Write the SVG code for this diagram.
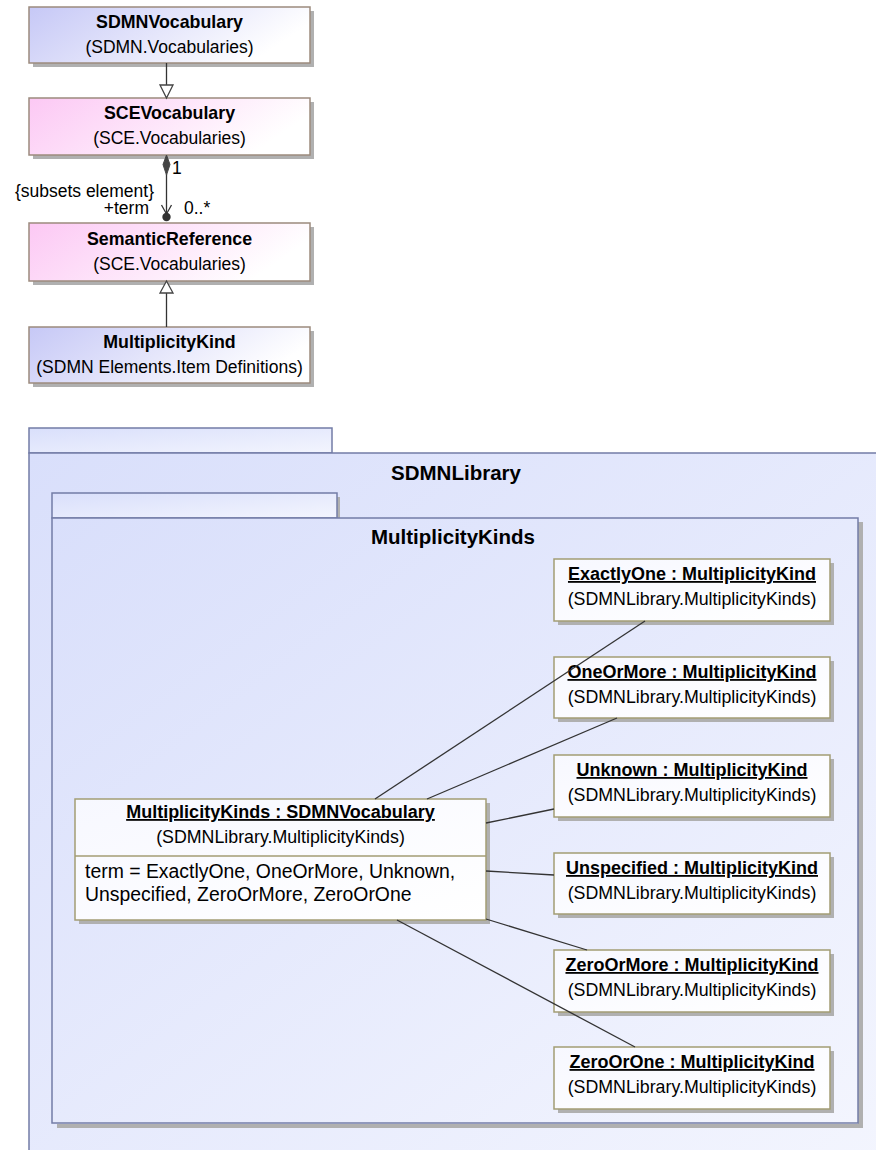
<svg xmlns="http://www.w3.org/2000/svg" width="876" height="1150" viewBox="0 0 876 1150">
<defs>
<linearGradient id="gBlue" x1="0" y1="0" x2="1" y2="0.3">
<stop offset="0" stop-color="#c6c8f6"/><stop offset="1" stop-color="#ffffff"/>
</linearGradient>
<linearGradient id="gPink" x1="0" y1="0" x2="1" y2="0.3">
<stop offset="0" stop-color="#fcc8f4"/><stop offset="1" stop-color="#ffffff"/>
</linearGradient>
<linearGradient id="gPkg" x1="0" y1="0" x2="1" y2="1">
<stop offset="0" stop-color="#d9dffb"/><stop offset="1" stop-color="#f3f5fe"/>
</linearGradient>
<linearGradient id="gInst" x1="0" y1="0" x2="1" y2="1">
<stop offset="0" stop-color="#f7f8ff"/><stop offset="1" stop-color="#ffffff"/>
</linearGradient>
</defs>
<style>
text{font-family:"Liberation Sans",Arial,sans-serif;fill:#000}
.ct{font-size:17.8px;font-weight:bold;text-anchor:middle}
.cs{font-size:17.5px;text-anchor:middle}
.it{font-size:18px;font-weight:bold;text-anchor:middle;text-decoration:underline}
.is{font-size:17.8px;text-anchor:middle}
.at{font-size:19.4px}
.pt{font-size:20.5px;font-weight:bold;text-anchor:middle}
.lb{font-size:17.5px}
.sh{fill:#b0b0b0}
.cls{stroke:#9c8b7d;stroke-width:1.5}
.inst{fill:url(#gInst);stroke:#a39d74;stroke-width:1.5}
.pkg{fill:url(#gPkg);stroke:#737ca6;stroke-width:1.5}
.ln{stroke:#333;stroke-width:1.3;fill:none}
.gen{fill:#fff;stroke:#444;stroke-width:1.3}
</style>

<!-- Packages -->
<g id="pkg-SDMNLibrary">
<rect class="pkg" x="29" y="428" width="303" height="25"/>
<rect class="pkg" x="29" y="453" width="860" height="710"/>
<text class="pt" x="456" y="480">SDMNLibrary</text>
</g>
<g id="pkg-MultiplicityKinds">
<rect class="sh" x="336" y="497" width="4" height="22"/>
<rect class="sh" x="858" y="522" width="5" height="606"/>
<rect class="sh" x="57" y="1124" width="806" height="4"/>
<rect class="pkg" x="52" y="493" width="285" height="25"/>
<rect class="pkg" x="52" y="518" width="806" height="605"/>
<text class="pt" x="453" y="544">MultiplicityKinds</text>
</g>

<!-- Classes -->
<g id="SDMNVocabulary">
<rect class="sh" x="33" y="11" width="281" height="56"/>
<rect class="cls" x="29" y="7" width="281" height="56" fill="url(#gBlue)"/>
<text class="ct" x="169.5" y="28">SDMNVocabulary</text>
<text class="cs" x="169.5" y="53">(SDMN.Vocabularies)</text>
</g>
<g id="SCEVocabulary">
<rect class="sh" x="33" y="102" width="281" height="57"/>
<rect class="cls" x="29" y="98" width="281" height="57" fill="url(#gPink)"/>
<text class="ct" x="169.5" y="119">SCEVocabulary</text>
<text class="cs" x="169.5" y="144">(SCE.Vocabularies)</text>
</g>
<g id="SemanticReference">
<rect class="sh" x="33" y="227" width="281" height="58"/>
<rect class="cls" x="29" y="223" width="281" height="58" fill="url(#gPink)"/>
<text class="ct" x="169.5" y="245">SemanticReference</text>
<text class="cs" x="169.5" y="270">(SCE.Vocabularies)</text>
</g>
<g id="MultiplicityKind">
<rect class="sh" x="33" y="331" width="281" height="56"/>
<rect class="cls" x="29" y="327" width="281" height="56" fill="url(#gBlue)"/>
<text class="ct" x="169.5" y="348">MultiplicityKind</text>
<text class="cs" x="169.5" y="373">(SDMN Elements.Item Definitions)</text>
</g>

<!-- Main instance -->
<g id="MultiplicityKinds-SDMNVocabulary">
<rect class="sh" x="79" y="803" width="411" height="121"/>
<rect class="inst" x="75" y="799" width="411" height="121"/>
<line x1="75" y1="856" x2="486" y2="856" stroke="#a39d74" stroke-width="1.5"/>
<text class="it" x="280.5" y="818">MultiplicityKinds : SDMNVocabulary</text>
<text class="is" x="280.5" y="843">(SDMNLibrary.MultiplicityKinds)</text>
<text class="at" x="85" y="878">term = ExactlyOne, OneOrMore, Unknown,</text>
<text class="at" x="85" y="901">Unspecified, ZeroOrMore, ZeroOrOne</text>
</g>

<!-- Instances -->
<g id="ExactlyOne">
<rect class="sh" x="558" y="563" width="276" height="62"/>
<rect class="inst" x="554" y="559" width="276" height="62"/>
<text class="it" x="692" y="580">ExactlyOne : MultiplicityKind</text>
<text class="is" x="692" y="605">(SDMNLibrary.MultiplicityKinds)</text>
</g>
<g id="OneOrMore">
<rect class="sh" x="558" y="661" width="276" height="61"/>
<rect class="inst" x="554" y="657" width="276" height="61"/>
<text class="it" x="692" y="678">OneOrMore : MultiplicityKind</text>
<text class="is" x="692" y="703">(SDMNLibrary.MultiplicityKinds)</text>
</g>
<g id="Unknown">
<rect class="sh" x="558" y="759" width="276" height="62"/>
<rect class="inst" x="554" y="755" width="276" height="62"/>
<text class="it" x="692" y="776">Unknown : MultiplicityKind</text>
<text class="is" x="692" y="801">(SDMNLibrary.MultiplicityKinds)</text>
</g>
<g id="Unspecified">
<rect class="sh" x="558" y="857" width="276" height="61"/>
<rect class="inst" x="554" y="853" width="276" height="61"/>
<text class="it" x="692" y="874">Unspecified : MultiplicityKind</text>
<text class="is" x="692" y="899">(SDMNLibrary.MultiplicityKinds)</text>
</g>
<g id="ZeroOrMore">
<rect class="sh" x="558" y="954" width="276" height="62"/>
<rect class="inst" x="554" y="950" width="276" height="62"/>
<text class="it" x="692" y="971">ZeroOrMore : MultiplicityKind</text>
<text class="is" x="692" y="996">(SDMNLibrary.MultiplicityKinds)</text>
</g>
<g id="ZeroOrOne">
<rect class="sh" x="558" y="1051" width="276" height="62"/>
<rect class="inst" x="554" y="1047" width="276" height="62"/>
<text class="it" x="692" y="1068">ZeroOrOne : MultiplicityKind</text>
<text class="is" x="692" y="1093">(SDMNLibrary.MultiplicityKinds)</text>
</g>

<!-- Connectors -->
<g id="connectors">
<line class="ln" x1="166.5" y1="63" x2="166.5" y2="85"/>
<polygon class="gen" points="160,85 173,85 166.5,98"/>
<line class="ln" x1="166.5" y1="174" x2="166.5" y2="216"/>
<polygon points="166.5,155 170,164.5 166.5,175 163,164.5" fill="#444" stroke="#444" stroke-width="1"/>
<polyline class="ln" points="161.5,205 166.5,214 171.5,205"/>
<circle cx="166.5" cy="217" r="4.2" fill="#333"/>
<text class="lb" x="172" y="174">1</text>
<text class="lb" x="154" y="197" text-anchor="end">{subsets element}</text>
<text class="lb" x="149" y="214" text-anchor="end">+term</text>
<text class="lb" x="184" y="214">0..*</text>
<line class="ln" x1="166.5" y1="293" x2="166.5" y2="327"/>
<polygon class="gen" points="160,293 173,293 166.5,281"/>

<line class="ln" x1="375" y1="799" x2="645" y2="621"/>
<line class="ln" x1="427" y1="799" x2="617" y2="718"/>
<line class="ln" x1="486" y1="823" x2="554" y2="809"/>
<line class="ln" x1="486" y1="871" x2="554" y2="875"/>
<line class="ln" x1="486" y1="919" x2="587" y2="950"/>
<line class="ln" x1="397" y1="920" x2="635" y2="1047"/>
</g>
</svg>
